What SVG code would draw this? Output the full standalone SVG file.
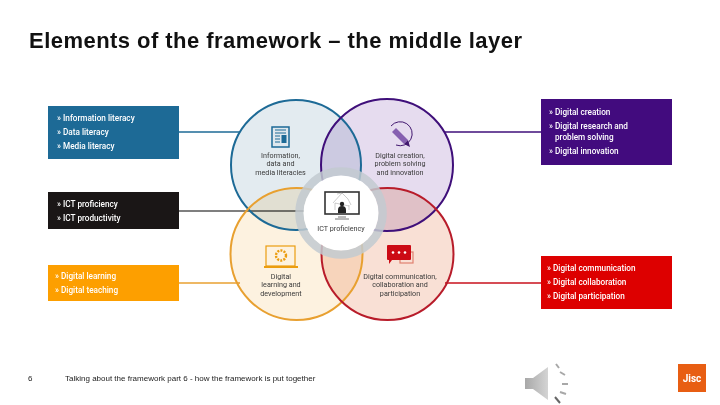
<svg xmlns="http://www.w3.org/2000/svg" width="720" height="405" viewBox="0 0 720 405">
<defs>
<linearGradient id="spk" x1="0" x2="1" y1="0" y2="0"><stop offset="0" stop-color="#a8a8a8"/><stop offset="1" stop-color="#d4d4d4"/></linearGradient>
</defs>
<style>
text{font-family:"Roboto","Liberation Sans",sans-serif}
.title{font-family:"Liberation Sans",Arial,sans-serif;font-size:22px;font-weight:700;fill:#111}
.foot{font-family:"Liberation Sans",Arial,sans-serif;font-size:8px;fill:#222}
.li{font-size:8.2px;font-weight:500;fill:#fff}
.lab{font-size:7.2px;fill:#3a3a3a;text-anchor:middle}
.venn{mix-blend-mode:multiply}
.ring{fill:none;stroke-width:2}
.link{stroke-width:1.6;fill:none}
.wave{stroke:#a8a8a8;stroke-width:2;fill:none}
</style>
<rect width="720" height="405" fill="#fff"/>
<text class="title" x="29" y="48" textLength="493">Elements of the framework – the middle layer</text>
<g id="connectors">
<path class="link" stroke="#1d6a96" d="M178 132H240"/>
<path class="link" stroke="#3f0f7a" d="M445 132H541"/>
<path class="link" stroke="#555" d="M178 211H306"/>
<path class="link" stroke="#e8a030" d="M178 283H240"/>
<path class="link" stroke="#c8101c" d="M445 283H541"/>
</g>
<g id="venn">
<circle class="venn" cx="296" cy="165" r="65" fill="#e3ebf0"/>
<circle class="venn" cx="387" cy="165" r="66" fill="#e6dcef"/>
<circle class="venn" cx="296.500" cy="254" r="66" fill="#fdf2e0"/>
<circle class="venn" cx="387.500" cy="254" r="66" fill="#f9e0d5"/>
<circle class="ring" cx="296" cy="165" r="65" stroke="#1d6a96"/>
<circle class="ring" cx="387" cy="165" r="66" stroke="#3f0f7a"/>
<circle class="ring" cx="296.500" cy="254" r="66" stroke="#e8a030"/>
<circle class="ring" cx="387.500" cy="254" r="66" stroke="#b81c2a"/>
</g>
<g id="ict-hub">
<circle cx="341" cy="213" r="41.500" fill="none" stroke="#c2cad0" stroke-opacity=".85" stroke-width="8.500"/>
<circle cx="341" cy="213" r="37.500" fill="#fff"/>
<rect x="325" y="192" width="34" height="22" fill="#fff" stroke="#333" stroke-width="1.600"/>
<path d="M337 194l5-1 6 6 3 6M333 203l9-10M349 206l-14-3M335 203v7M349 205v5" stroke="#aaa" stroke-width=".6" fill="none"/>
<circle cx="342" cy="204" r="2.200" fill="#222"/><path d="M338 213v-3q0-4 4-4t4 4v3z" fill="#222"/>
<path d="M338 217h8M335 219h14" stroke="#777" stroke-width="1"/>
<text class="lab" x="341" y="231">ICT proficiency</text>
</g>
<g id="node-info">
<rect x="48" y="106" width="131" height="53" fill="#1d6a96"/>
<text class="li" x="57" y="121">» Information literacy</text>
<text class="li" x="57" y="135">» Data literacy</text>
<text class="li" x="57" y="149">» Media literacy</text>
<rect x="272" y="127" width="17" height="20" fill="#dfe8ee" stroke="#1d6a96" stroke-width="1.500"/>
<path d="M275 130h11M275 133h11M275 136h5M275 139h5M275 142h5" stroke="#1d6a96" stroke-width="1.100"/>
<rect x="281.500" y="135" width="5" height="8" fill="#1d6a96"/>
<text class="lab" x="280.500" y="158">Information,</text>
<text class="lab" x="280.500" y="166">data and</text>
<text class="lab" x="280.500" y="175">media literacies</text>
</g>
<g id="node-ict">
<rect x="48" y="192" width="131" height="37" fill="#1a1616"/>
<text class="li" x="57" y="207">» ICT proficiency</text>
<text class="li" x="57" y="221">» ICT productivity</text>
</g>
<g id="node-learning">
<rect x="48" y="265" width="131" height="36" fill="#fd9f00"/>
<text class="li" x="55" y="279">» Digital learning</text>
<text class="li" x="55" y="293">» Digital teaching</text>
<rect x="266" y="246" width="29" height="20" fill="#fdf2e0" stroke="#eb9d10" stroke-width="1.200"/>
<rect x="264" y="266" width="34" height="2" fill="#eb9d10"/>
<circle cx="281" cy="255.500" r="5" fill="none" stroke="#eb9d10" stroke-width="2.400" stroke-dasharray="2 1.200"/>
<text class="lab" x="281" y="279">Digital</text>
<text class="lab" x="281" y="287">learning and</text>
<text class="lab" x="281" y="296">development</text>
</g>
<g id="node-creation">
<rect x="541" y="99" width="131" height="66" fill="#420b7e"/>
<text class="li" x="549" y="115">» Digital creation</text>
<text class="li" x="549" y="129">» Digital research and</text>
<text class="li" x="555" y="140">problem solving</text>
<text class="li" x="549" y="154">» Digital innovation</text>
<path d="M391 126a12 12 0 1 1 5 19" fill="none" stroke="#42186f" stroke-width="1"/>
<path d="M396 128l12 12-4 4-12-12z" fill="#8660b0"/>
<path d="M404 144l4-4 2 7z" fill="#42186f"/>
<text class="lab" x="400" y="158">Digital creation,</text>
<text class="lab" x="400" y="166">problem solving</text>
<text class="lab" x="400" y="175">and innovation</text>
</g>
<g id="node-communication">
<rect x="541" y="256" width="131" height="53" fill="#dd0000"/>
<text class="li" x="547" y="271">» Digital communication</text>
<text class="li" x="547" y="285">» Digital collaboration</text>
<text class="li" x="547" y="299">» Digital participation</text>
<rect x="400" y="252" width="13" height="11" fill="none" stroke="#e08070" stroke-width="1.200"/>
<path d="M388 245h22a1 1 0 0 1 1 1v13a1 1 0 0 1 -1 1h-18l-3 4v-4h-1a1 1 0 0 1 -1-1v-13a1 1 0 0 1 1-1z" fill="#cc0a14"/>
<circle cx="393" cy="252.500" r="1.300" fill="#fff"/><circle cx="399" cy="252.500" r="1.300" fill="#fff"/><circle cx="405" cy="252.500" r="1.300" fill="#fff"/>
<text class="lab" x="400" y="279">Digital communication,</text>
<text class="lab" x="400" y="287">collaboration and</text>
<text class="lab" x="400" y="296">participation</text>
</g>
<text class="foot" x="28" y="381">6</text>
<text class="foot" x="65" y="381">Talking about the framework part 6 - how the framework is put together</text>
<g id="speaker">
<path d="M525 378h8l15-11v33l-15-11h-8z" fill="url(#spk)"/>
<path class="wave" d="M556 364l3 4M560 372l5 3M562 384h6M560 392l6 2"/>
<path d="M555 397l5 6" stroke="#666" stroke-width="2"/>
</g>
<g id="logo">
<rect x="678" y="364" width="28" height="28" fill="#e85e13"/>
<text x="692" y="382" font-size="10" font-weight="700" fill="#fff" text-anchor="middle">Jisc</text>
</g>
</svg>
